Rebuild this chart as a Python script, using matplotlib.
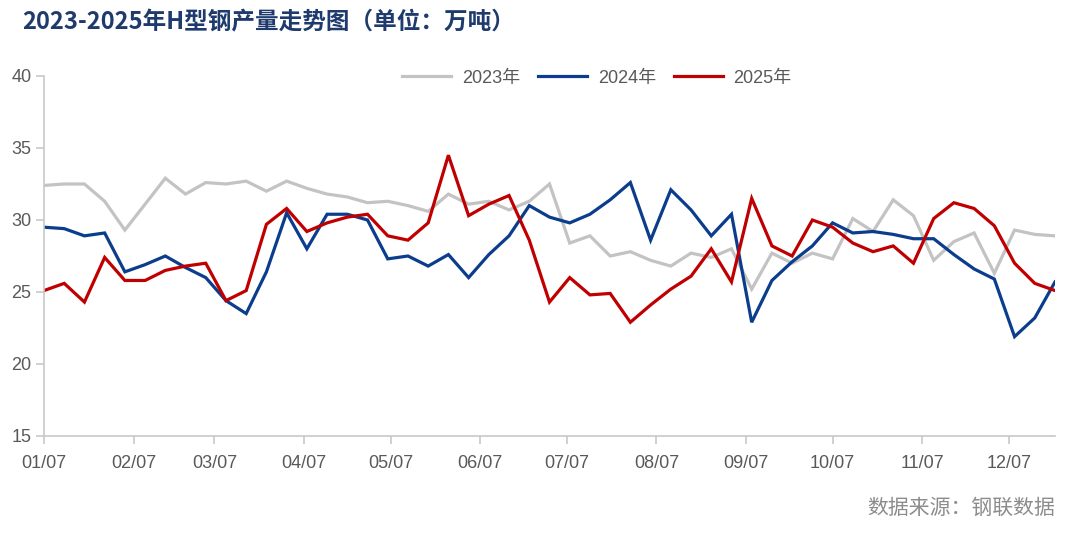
import matplotlib
matplotlib.use("Agg")
import matplotlib.pyplot as plt
import numpy as np

# ---- data ----
tick_labels = ["01/07", "02/07", "03/07", "04/07", "05/07", "06/07",
               "07/07", "08/07", "09/07", "10/07", "11/07", "12/07"]
tick_days = [0, 31, 59, 90, 120, 151, 181, 212, 243, 273, 304, 334]  # days after 01/07
week_days = [7 * i for i in range(51)]

y2023 = [32.4, 32.5, 32.5, 31.3, 29.3, 31.1, 32.9, 31.8, 32.6, 32.5,
         32.7, 32.0, 32.7, 32.2, 31.8, 31.6, 31.2, 31.3, 31.0, 30.6,
         31.8, 31.1, 31.3, 30.7, 31.3, 32.5, 28.4, 28.9, 27.5, 27.8,
         27.2, 26.8, 27.7, 27.4, 28.0, 25.2, 27.7, 27.0, 27.7, 27.3,
         30.1, 29.2, 31.4, 30.3, 27.2, 28.5, 29.1, 26.3, 29.3, 29.0, 28.9]
y2024 = [29.5, 29.4, 28.9, 29.1, 26.4, 26.9, 27.5, 26.7, 26.0, 24.4,
         23.5, 26.4, 30.5, 28.0, 30.4, 30.4, 30.0, 27.3, 27.5, 26.8,
         27.6, 26.0, 27.6, 28.9, 31.0, 30.2, 29.8, 30.4, 31.4, 32.6,
         28.6, 32.1, 30.7, 28.9, 30.4, 22.9, 25.8, 27.1, 28.2, 29.8,
         29.1, 29.2, 29.0, 28.7, 28.7, 27.6, 26.6, 25.9, 21.9, 23.2, 25.7]
y2025 = [25.1, 25.6, 24.3, 27.4, 25.8, 25.8, 26.5, 26.8, 27.0, 24.4,
         25.1, 29.7, 30.8, 29.2, 29.8, 30.2, 30.4, 28.9, 28.6, 29.8,
         34.5, 30.3, 31.1, 31.7, 28.6, 24.3, 26.0, 24.8, 24.9, 22.9,
         24.1, 25.2, 26.1, 28.0, 25.7, 31.5, 28.2, 27.5, 30.0, 29.5,
         28.4, 27.8, 28.2, 27.0, 30.1, 31.2, 30.8, 29.6, 27.0, 25.6, 25.1]
series_names = ["2023年", "2024年", "2025年"]

# ---- styles ----
c_gray = "#c3c3c3"
c_blue = "#0b3d8c"
c_red = "#c00000"
num_font = ["Liberation Sans Narrow", "Liberation Sans", "Noto Sans CJK SC"]
cjk_font = ["Noto Sans CJK SC", "DejaVu Sans"]

fig = plt.figure(figsize=(10.8, 5.33), dpi=100)
ax = fig.add_axes([44 / 1080, 1 - 436 / 533, (1055 - 44) / 1080, (436 - 76) / 533])

ax.plot(week_days, y2023, color=c_gray, lw=2.3, label=series_names[0], solid_joinstyle="miter")
ax.plot(week_days, y2024, color=c_blue, lw=2.3, label=series_names[1], solid_joinstyle="miter")
ax.plot(week_days, y2025, color=c_red, lw=2.3, label=series_names[2], solid_joinstyle="miter")

ax.set_xlim(0, 350)
ax.set_ylim(15, 40)
ax.set_yticks([15, 20, 25, 30, 35, 40])
ax.set_xticks(tick_days)
ax.set_xticklabels(tick_labels)

for s in ["top", "right"]:
    ax.spines[s].set_visible(False)
for s in ["left", "bottom"]:
    ax.spines[s].set_color("#c8c8c8")
    ax.spines[s].set_linewidth(1.2)
ax.tick_params(axis="both", colors="#c8c8c8", length=6, width=1.2, direction="out")
ax.tick_params(axis="x", pad=8)
ax.tick_params(axis="y", pad=3)
for lbl in ax.get_xticklabels() + ax.get_yticklabels():
    lbl.set_color("#595959")
    lbl.set_fontfamily(num_font)
    lbl.set_fontsize(13)

leg = fig.legend(loc="center", bbox_to_anchor=(597 / 1080, 1 - 78 / 533), ncol=3,
                 frameon=False, handlelength=2.7, columnspacing=1.0, handletextpad=0.6,
                 prop={"family": num_font, "size": 13})
for t in leg.get_texts():
    t.set_color("#595959")

fig.text(22 / 1080, 1 - 22 / 533, "2023-2025年H型钢产量走势图（单位：万吨）",
         fontsize=17, fontweight="bold", color="#1f3b6e", family=cjk_font,
         ha="left", va="center")
fig.text(1055 / 1080, 1 - 508 / 533, "数据来源：钢联数据",
         fontsize=15, color="#8c8c8c", family=cjk_font, ha="right", va="center")

fig.savefig("out.png", dpi=100, facecolor="white")
